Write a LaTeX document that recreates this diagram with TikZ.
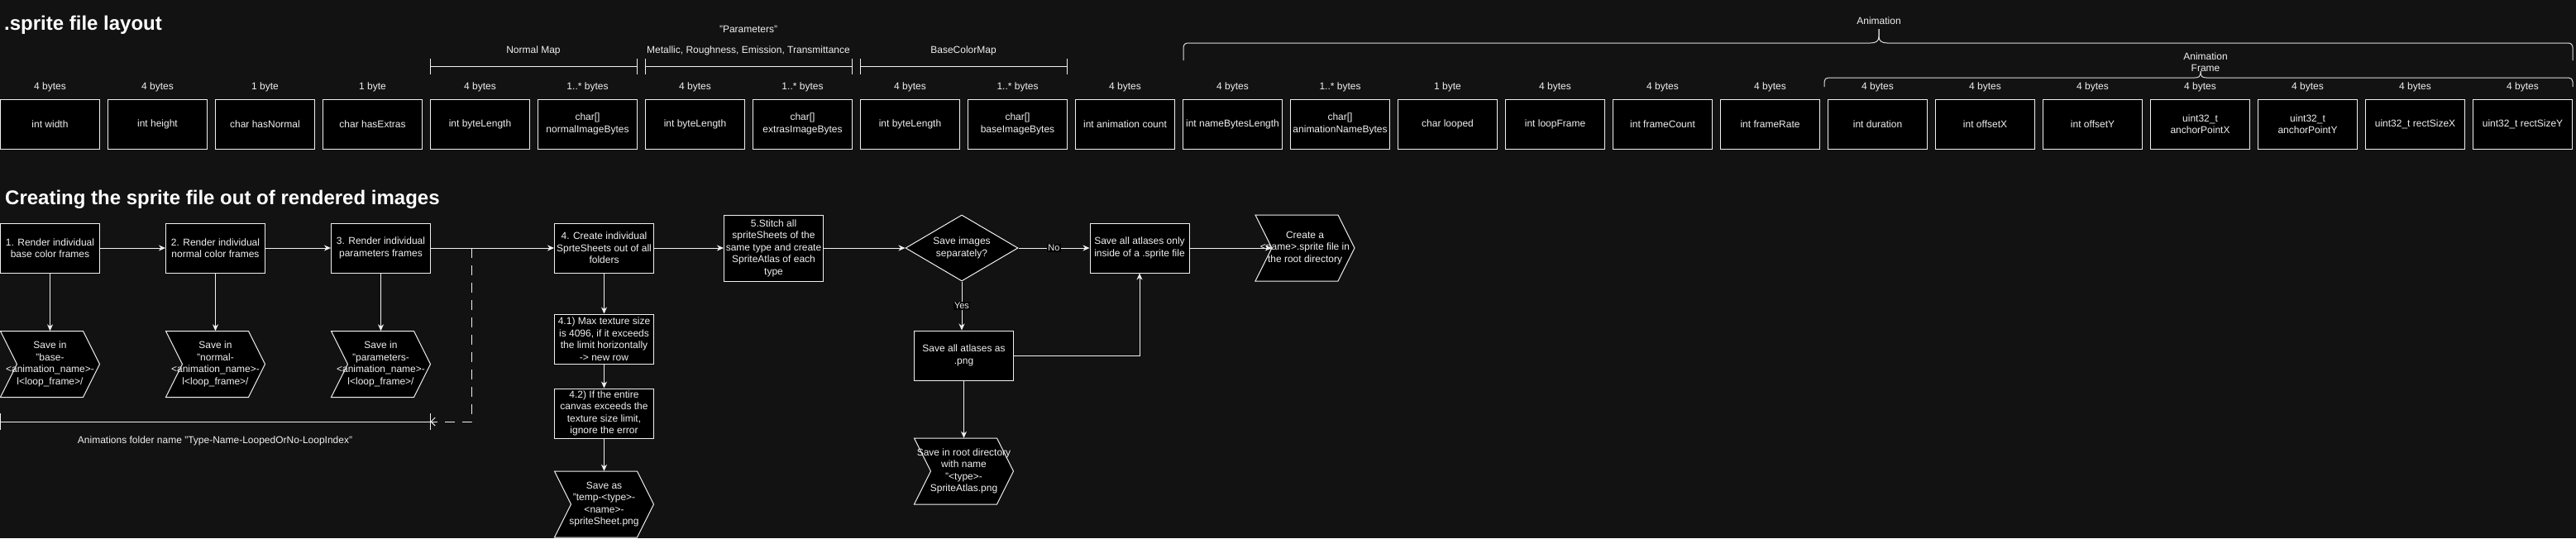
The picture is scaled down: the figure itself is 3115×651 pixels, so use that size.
\documentclass[tikz,border=0pt]{standalone}
\usepackage{fontspec}
\setmainfont{Liberation Sans}
\usetikzlibrary{arrows.meta,shapes.geometric,calc}
\definecolor{bg}{HTML}{121212}
\definecolor{tc}{HTML}{F0F0F0}
\definecolor{ln}{HTML}{F0F0F0}
\definecolor{br}{HTML}{DCDCDC}
\newcommand\ftxt{\fontsize{12pt}{14.5pt}\selectfont}
\newcommand\fsmall{\fontsize{11pt}{13pt}\selectfont}
\newcommand\fhead{\fontsize{24pt}{28pt}\selectfont\bfseries}
\newcommand\chevnode[4]{%
  \draw[ln, fill=black, line width=1pt] (#2-60,#3-40) -- (#2+40,#3-40) -- (#2+60,#3) -- (#2+40,#3+40) -- (#2-60,#3+40) -- (#2-40,#3) -- cycle;
  \node[chev] (#1) at (#2,#3) {#4};}
\begin{document}
\begin{tikzpicture}[x=1pt,y=-1pt,
  fld/.style={draw=ln, fill=black, line width=1pt, minimum width=120pt, minimum height=60pt, inner sep=0pt, align=center, font=\ftxt, text=tc},
  tall/.style={fld, minimum height=80pt},
  chev/.style={rectangle, minimum width=120pt, minimum height=80pt, inner sep=0pt, align=center, font=\ftxt, text=tc},
  dia/.style={diamond, aspect=1.7, draw=ln, fill=black, line width=1pt, minimum width=136pt, minimum height=80pt, inner sep=0pt, align=center, font=\ftxt, text=tc},
  txt/.style={inner sep=0pt, align=center, font=\ftxt, text=tc},
  head/.style={inner sep=0pt, font=\fhead, text=white},
  lbl/.style={fill=black, text=tc, font=\fsmall, inner sep=1pt},
  arr/.style={draw=ln, line width=1pt, -{Stealth[length=8pt,width=7pt,inset=2.5pt]}},
  dsh/.style={draw=ln, line width=1pt, dash pattern=on 12pt off 9pt, -{Straight Barb[length=5pt,width=10pt]}},
  brk/.style={draw=ln, line width=1pt},
  brc/.style={draw=br, line width=1pt}]
\useasboundingbox[fill=bg] (0,0) rectangle (3115,651);

% titles
\node[head, anchor=west] (t1) at (5,30.5) {.sprite file layout};
\node[head, anchor=west] (t2) at (6,241.5) {Creating the sprite file out of rendered images};

% fields
\foreach \i/\sz/\txt [count=\k] in {
 0/{4 bytes}/{int width},
 1/{4 bytes}/{int height},
 2/{1 byte}/{char hasNormal},
 3/{1 byte}/{char hasExtras},
 4/{4 bytes}/{int byteLength},
 5/{1..* bytes}/{char[]\\normalImageBytes},
 6/{4 bytes}/{int byteLength},
 7/{1..* bytes}/{char[]\\extrasImageBytes},
 8/{4 bytes}/{int byteLength},
 9/{1..* bytes}/{char[]\\baseImageBytes},
 10/{4 bytes}/{int animation count},
 11/{4 bytes}/{int nameBytesLength},
 12/{1..* bytes}/{char[]\\animationNameBytes},
 13/{1 byte}/{char looped},
 14/{4 bytes}/{int loopFrame},
 15/{4 bytes}/{int frameCount},
 16/{4 bytes}/{int frameRate},
 17/{4 bytes}/{int duration},
 18/{4 bytes}/{int offsetX},
 19/{4 bytes}/{int offsetY},
 20/{4 bytes}/{uint32\_t\\anchorPointX},
 21/{4 bytes}/{uint32\_t\\anchorPointY},
 22/{4 bytes}/{uint32\_t rectSizeX},
 23/{4 bytes}/{uint32\_t rectSizeY}}{
  \node[fld] (b\k) at (130*\i+60.5,150) {\txt};
  \node[txt] (s\k) at (130*\i+60.5,105.3) {\sz};
}

% brackets
\foreach \a/\b in {520.5/770.5, 780.5/1030.5, 1040.5/1290.5}{
  \draw[brk] (\a,80) -- (\b,80);
  \draw[brk] (\a,71) -- (\a,90);
  \draw[brk] (\b,71) -- (\b,90);
}
\node[txt] (lnm) at (645,61) {Normal Map};
\node[txt] (lpq) at (905,35) {"Parameters"};
\node[txt] (lpm) at (905,61) {Metallic, Roughness, Emission, Transmittance};
\node[txt] (lbc) at (1165,61) {BaseColorMap};

% Animation brace
\draw[brc] (1431,73) -- (1431,58) .. controls (1431,54) and (1433,52) .. (1437,52) -- (2262,52) .. controls (2268,52) and (2272,50) .. (2272,44) -- (2272,35);
\draw[brc] (2272,35) -- (2272,44) .. controls (2272,50) and (2276,52) .. (2282,52) -- (3105,52) .. controls (3109,52) and (3111,54) .. (3111,58) -- (3111,73);
\node[txt] (lan) at (2272,25) {Animation};

% Animation Frame brace
\draw[brc] (2206,105) -- (2206,99) .. controls (2206,96) and (2208,94) .. (2211,94) -- (2654,94) .. controls (2659,94) and (2661,92) .. (2661,89) -- (2661,86);
\draw[brc] (2661,86) -- (2661,89) .. controls (2661,92) and (2663,94) .. (2668,94) -- (3106,94) .. controls (3109,94) and (3111,96) .. (3111,99) -- (3111,105);
\node[txt] (laf) at (2667,75.2) {Animation\\Frame};

% flow
\node[fld] (r1) at (60.5,300) {1. Render individual\\base color frames};
\node[fld] (r2) at (260.5,300) {2. Render individual\\normal color frames};
\node[fld] (r3) at (460.5,300) {3. Render individual\\parameters frames};
\chevnode{c1}{60.5}{440.5}{Save in\\"base-\\<animation\_name>-\\l<loop\_frame>/}
\chevnode{c2}{260.5}{440.5}{Save in\\"normal-\\<animation\_name>-\\l<loop\_frame>/}
\chevnode{c3}{460.5}{440.5}{Save in\\"parameters-\\<animation\_name>-\\l<loop\_frame>/}
\node[fld] (r4) at (730.5,300) {4. Create individual\\SprteSheets out of all\\folders};
\node[tall] (r5) at (935.5,300) {5.Stitch all\\spriteSheets of the\\same type and create\\SpriteAtlas of each\\type};
\node[fld] (r41) at (730.5,410) {4.1) Max texture size\\is 4096, if it exceeds\\the limit horizontally\\-> new row};
\node[fld] (r42) at (730.5,500) {4.2) If the entire\\canvas exceeds the\\texture size limit,\\ignore the error};
\chevnode{c4}{730.5}{610}{Save as\\"temp-<type>-\\<name>-\\spriteSheet.png}
\node[dia] (d) at (1163,300) {Save images\\separately?};
\node[fld] (sep) at (1378,300) {Save all atlases only\\inside of a .sprite file};
\chevnode{c5}{1578}{300}{Create a\\<name>.sprite file in\\the root directory}
\node[fld] (png) at (1165.5,430) {Save all atlases as\\.png};
\chevnode{c6}{1165.5}{570}{Save in root directory\\with name\\"<type>-\\SpriteAtlas.png}

% connectors
\draw[arr] (r1) -- (r2);
\draw[arr] (r2) -- (r3);
\draw[arr] (r3) -- (r4);
\draw[arr] (r4) -- (r5);
\draw[arr] (r5) -- (d);
\draw[arr] (d) -- node[lbl] {No} (sep);
\draw[arr] (d.south) -- node[lbl] {Yes} (d.south |- png.north);
\draw[arr] (png.east) -| (sep.south);
\draw[arr] (sep) -- ([xshift=20pt]c5.west);
\draw[arr] (r1) -- (c1);
\draw[arr] (r2) -- (c2);
\draw[arr] (r3) -- (c3);
\draw[arr] (r4) -- (r41);
\draw[arr] (r41) -- (r42);
\draw[arr] (r42) -- (c4);
\draw[arr] (png) -- (c6);

% dimension line
\coordinate (dl) at (0.5,510);
\coordinate (dr) at (520.5,510);
\coordinate (sp) at (570.5,300);
\draw[brk] (dl) -- (dr);
\draw[brk] (0.5,500) -- (0.5,520);
\draw[brk] (520.5,500) -- (520.5,520);
\draw[dsh] (sp) |- (dr);
\node[txt] (dimt) at (260,533.3) {Animations folder name "Type-Name-LoopedOrNo-LoopIndex"};
\end{tikzpicture}
\end{document}
